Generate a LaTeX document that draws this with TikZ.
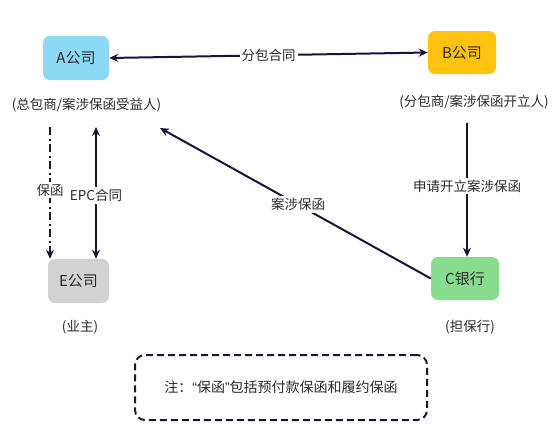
\documentclass[tikz,border=0pt]{standalone}
\usepackage{fontspec}
\setmainfont{Noto Sans CJK SC}
\newfontfamily\latq{Liberation Sans}
\usetikzlibrary{arrows.meta}
\definecolor{cA}{HTML}{8CD9F6}
\definecolor{cB}{HTML}{FFC20E}
\definecolor{cC}{HTML}{88DC8F}
\definecolor{cE}{HTML}{D2D2D2}
\definecolor{ink}{HTML}{14163A}
\definecolor{txt}{HTML}{2A2A2A}
\begin{document}
\begin{tikzpicture}[x=1pt,y=-1pt,
  box/.style={rounded corners=7pt, minimum width=66pt, minimum height=44pt, inner sep=0pt, text=txt, font=\fontsize{15}{18}\selectfont},
  lab/.style={inner sep=1pt, text=txt, font=\fontsize{13.5}{16}\selectfont},
  elab/.style={fill=white, inner sep=2pt, text=txt, font=\fontsize{13.5}{16}\selectfont},
  tip/.style={Stealth[length=9pt,width=8pt]},
  conn/.style={draw=ink, line width=2pt, -{Stealth[length=9pt,width=8pt]}},
  conn2/.style={draw=ink, line width=2pt, {Stealth[length=9pt,width=8pt]}-{Stealth[length=9pt,width=8pt]}},
  dashdot/.style={draw=ink, line width=2pt, dash pattern=on 8pt off 3.5pt on 2pt off 3.5pt, -{Stealth[length=9pt,width=8pt]}},
  note/.style={draw=ink, line width=2pt, dash pattern=on 7pt off 4pt, rounded corners=10pt, minimum width=292pt, minimum height=65pt, text=txt, font=\fontsize{14}{17}\selectfont}
]
\useasboundingbox (0,0) rectangle (554,445);

\node[box, fill=cA] (A) at (76,58) {A公司};
\node[box, fill=cB, minimum width=68pt, minimum height=43pt] (B) at (462,52.5) {B公司};
\node[box, fill=cE, minimum width=61pt] (E) at (78.5,281) {E公司};
\node[box, fill=cC, minimum width=68pt, minimum height=43pt] (C) at (465,278.5) {C银行};

\node[lab] (Al) at (86.5,105) {(总包商/案涉保函受益人)};
\node[lab] (Bl) at (474,102) {(分包商/案涉保函开立人)};
\node[lab] (El) at (80,327) {(业主)};
\node[lab] (Cl) at (470,327) {(担保行)};

\coordinate (a1) at (50,127);
\coordinate (a2) at (96,127);
\coordinate (a3) at (160,128);
\coordinate (b1) at (467,123);

\draw[conn2] (A.east) -- (B.west) node[elab, pos=0.5] {分包合同};
\draw[dashdot] (a1) -- (a1 |- E.north) node[elab, pos=0.48] {保函};
\draw[conn2] (a2) -- (a2 |- E.north) node[elab, pos=0.52] {EPC合同};
\draw[conn] (b1) -- (b1 |- C.north) node[elab, pos=0.47] {申请开立案涉保函};
\draw[conn] (C.west) -- (a3) node[elab, pos=0.49] {案涉保函};

\node[note] (N) at (281,387.5) {注：{\latq “}保函{\latq ”}包括预付款保函和履约保函};
\end{tikzpicture}
\end{document}
